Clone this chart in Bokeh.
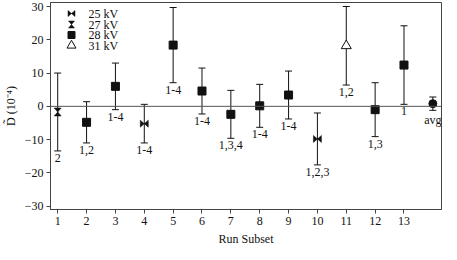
from bokeh.plotting import figure
from bokeh.models import ColumnDataSource, Span, FixedTicker, Range1d
from bokeh.core.properties import value
from bokeh.embed import file_html
from bokeh.resources import INLINE

# ---- data ----
runs = [1, 2, 3, 4, 5, 6, 7, 8, 9, 10, 11, 12, 13]
dvals = [-1.7, -4.8, 6.0, -5.2, 18.4, 4.6, -2.4, 0.15, 3.4, -9.8, 18.2, -1.0, 12.4]
derrs = [11.7, 6.2, 7.0, 5.8, 11.3, 6.9, 7.2, 6.45, 7.2, 7.8, 11.8, 8.1, 11.8]
subsets = ["2", "1,2", "1-4", "1-4", "1-4", "1-4", "1,3,4", "1-4", "1-4", "1,2,3", "1,2", "1,3", "1"]
voltage = ["27 kV", "28 kV", "28 kV", "25 kV", "28 kV", "28 kV", "28 kV", "28 kV", "28 kV",
           "25 kV", "31 kV", "28 kV", "28 kV"]
avg_pos = [14]
avg_val = [0.8]
avg_err = [2.0]
avg_lab = ["avg"]
legend_labels = ["25 kV", "27 kV", "28 kV", "31 kV"]
x_ticks = list(range(1, 14))
y_ticks = [-30, -20, -10, 0, 10, 20, 30]

# ---- layout ----
X0, X1 = 0.75, 14.3
Y0, Y1 = -31.0, 31.2
FW, FH = 391, 207
sx = FW / (X1 - X0)   # px per x unit
sy = FH / (Y1 - Y0)   # px per y unit
FONT = "'Liberation Serif'"
INK = "#111111"

p = figure(frame_width=FW, frame_height=FH, output_backend="svg", toolbar_location=None,
           x_range=Range1d(X0, X1), y_range=Range1d(Y0, Y1),
           min_border_left=47, min_border_right=3, min_border_top=2, min_border_bottom=35)
p.grid.visible = False
p.outline_line_color = "#444444"
p.outline_line_width = 1
p.background_fill_color = "white"
p.border_fill_color = "white"

for ax in (p.xaxis[0], p.yaxis[0]):
    ax.axis_line_color = "#444444"
    ax.major_tick_line_color = "#444444"
    ax.major_tick_out = 4
    ax.major_tick_in = 0
    ax.minor_tick_line_color = None
    ax.major_label_text_font = FONT
    ax.major_label_text_font_size = "12px"
    ax.major_label_text_color = INK
    ax.axis_label_text_font = FONT
    ax.axis_label_text_font_size = "12px"
    ax.axis_label_text_font_style = "normal"
    ax.axis_label_text_color = INK
    ax.major_label_standoff = 3
    ax.axis_label_standoff = 4

p.xaxis.ticker = FixedTicker(ticks=x_ticks)
p.yaxis.ticker = FixedTicker(ticks=y_ticks)
p.xaxis.axis_label = "Run Subset"
p.yaxis.axis_label = "D\u0303 (10\u207b\u2074)"

p.add_layout(Span(location=0, dimension="width", line_color="#555555", line_width=1))

# error bars
all_x = runs + avg_pos
all_v = dvals + avg_val
all_e = derrs + avg_err
lo = [v - e for v, e in zip(all_v, all_e)]
hi = [v + e for v, e in zip(all_v, all_e)]
eb = ColumnDataSource(dict(x=all_x, lo=lo, hi=hi))
p.segment(x0="x", y0="lo", x1="x", y1="hi", source=eb, line_color=INK, line_width=1)
p.scatter(x="x", y="lo", source=eb, marker="dash", size=7, line_color=INK, line_width=1)
p.scatter(x="x", y="hi", source=eb, marker="dash", size=7, line_color=INK, line_width=1)


def bowtie(xc, yc, horizontal, w=4.0, h=3.5):
    dx, dy = w / sx, h / sy
    if horizontal:
        return ([xc - dx, xc - dx, xc + dx, xc + dx], [yc + dy, yc - dy, yc + dy, yc - dy])
    return ([xc - dx, xc + dx, xc - dx, xc + dx], [yc + dy, yc + dy, yc - dy, yc - dy])


xs, ys = [], []
sq_x, sq_y, tr_x, tr_y = [], [], [], []
for x, v, kv in zip(runs, dvals, voltage):
    if kv == "25 kV":
        a, b = bowtie(x, v, True)
        xs.append(a); ys.append(b)
    elif kv == "27 kV":
        a, b = bowtie(x, v, False, w=3.5, h=4.0)
        xs.append(a); ys.append(b)
    elif kv == "28 kV":
        sq_x.append(x); sq_y.append(v)
    else:
        tr_x.append(x); tr_y.append(v)

p.patches(xs=xs, ys=ys, fill_color=INK, line_color=INK, line_width=0.5)
p.scatter(x=sq_x, y=sq_y, marker="square", size=8, fill_color=INK, line_color=INK)
p.scatter(x=tr_x, y=tr_y, marker="triangle", size=10, fill_color="white", line_color=INK, line_width=1)
p.scatter(x=avg_pos, y=avg_val, marker="circle", size=8, fill_color=INK, line_color=INK)

# subset labels
lab = ColumnDataSource(dict(x=all_x, y=lo, t=subsets + avg_lab))
p.text(x="x", y="y", text="t", source=lab, text_font=value(FONT), text_font_size="12px",
       text_align="center", text_baseline="top", y_offset=3, text_color=INK)

# manual legend (positions in px relative to frame top-left)
leg_mx = X0 + 21 / sx
leg_tx = X0 + 38 / sx
rows = [11, 22, 32.5, 43]
ry = [Y1 - r / sy for r in rows]
a, b = bowtie(leg_mx, ry[0], True, w=3.5, h=3.0)
c, d = bowtie(leg_mx, ry[1], False, w=3.0, h=3.5)
p.patches(xs=[a, c], ys=[b, d], fill_color=INK, line_color=INK, line_width=0.5)
p.scatter(x=[leg_mx], y=[ry[2]], marker="square", size=7, fill_color=INK, line_color=INK)
p.scatter(x=[leg_mx], y=[ry[3]], marker="triangle", size=9, fill_color="white", line_color=INK, line_width=1)
p.text(x=[leg_tx] * 4, y=ry, text=legend_labels, text_font=value(FONT), text_font_size="12px",
       text_align="left", text_baseline="middle", text_color=INK)

open("out.html", "w").write(file_html(p, INLINE))
